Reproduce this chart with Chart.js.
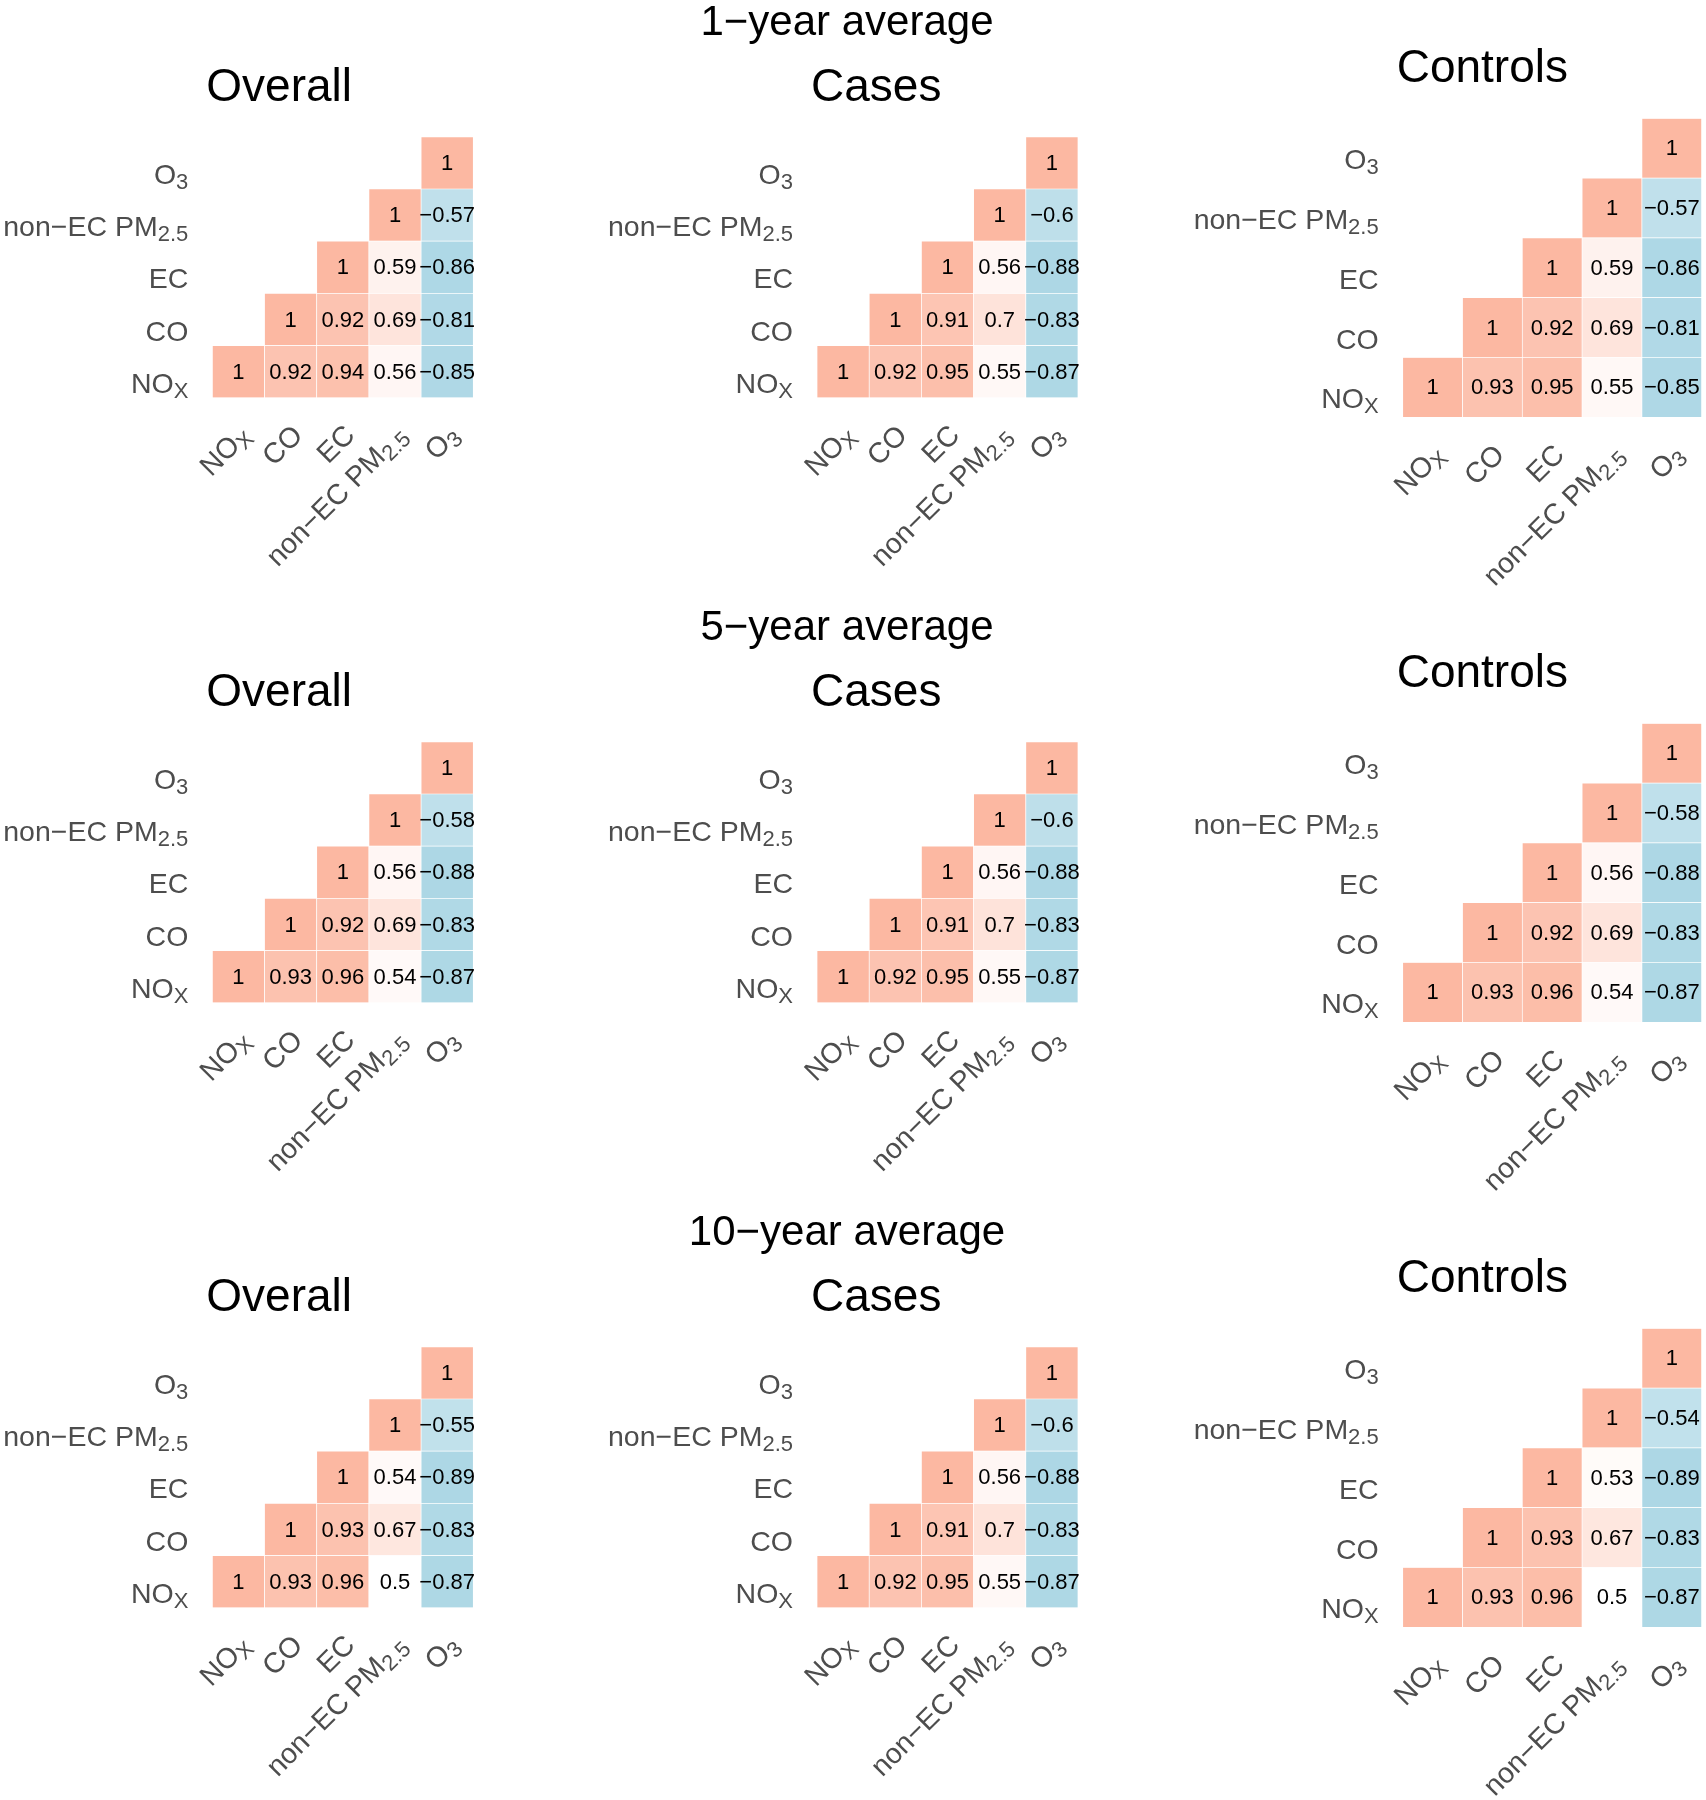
<!DOCTYPE html>
<html>
<head>
<meta charset="utf-8">
<script src="https://cdn.jsdelivr.net/npm/chart.js@4.4.1/dist/chart.umd.min.js"></script>
<style>
body { margin: 0; background: #fff; width: 1706px; height: 1800px; position: relative; overflow: hidden; }
canvas { position: absolute; }
</style>
</head>
<body>
<script>
var variables = ['NOx', 'CO', 'EC', 'non-EC PM2.5', 'O3'];
// tick labels as [text, isSubscript] pieces
var tickLabels = [
    [['NO', 0], ['X', 1]],
    [['CO', 0]],
    [['EC', 0]],
    [['non\u2212EC PM', 0], ['2.5', 1]],
    [['O', 0], ['3', 1]]
];
var periods = ['1\u2212year average', '5\u2212year average', '10\u2212year average'];
var groups = ['Overall', 'Cases', 'Controls'];

// upper triangle, one row per variable (NOx row at the bottom), starting at the diagonal
var overall1 = [[1, 0.92, 0.94, 0.56, -0.85], [1, 0.92, 0.69, -0.81], [1, 0.59, -0.86], [1, -0.57], [1]];
var cases1 = [[1, 0.92, 0.95, 0.55, -0.87], [1, 0.91, 0.7, -0.83], [1, 0.56, -0.88], [1, -0.6], [1]];
var controls1 = [[1, 0.93, 0.95, 0.55, -0.85], [1, 0.92, 0.69, -0.81], [1, 0.59, -0.86], [1, -0.57], [1]];

var overall5 = [[1, 0.93, 0.96, 0.54, -0.87], [1, 0.92, 0.69, -0.83], [1, 0.56, -0.88], [1, -0.58], [1]];
var cases5 = [[1, 0.92, 0.95, 0.55, -0.87], [1, 0.91, 0.7, -0.83], [1, 0.56, -0.88], [1, -0.6], [1]];
var controls5 = [[1, 0.93, 0.96, 0.54, -0.87], [1, 0.92, 0.69, -0.83], [1, 0.56, -0.88], [1, -0.58], [1]];

var overall10 = [[1, 0.93, 0.96, 0.5, -0.87], [1, 0.93, 0.67, -0.83], [1, 0.54, -0.89], [1, -0.55], [1]];
var cases10 = [[1, 0.92, 0.95, 0.55, -0.87], [1, 0.91, 0.7, -0.83], [1, 0.56, -0.88], [1, -0.6], [1]];
var controls10 = [[1, 0.93, 0.96, 0.5, -0.87], [1, 0.93, 0.67, -0.83], [1, 0.53, -0.89], [1, -0.54], [1]];

var matrices = [
    [overall1, cases1, controls1],
    [overall5, cases5, controls5],
    [overall10, cases10, controls10]
];

var FONT = '"Liberation Sans", Arial, Helvetica, sans-serif';
var rowHeight = 605;
var canvasHeight = 600;
var canvasLeft = [0, 560, 1140];
var canvasWidth = [560, 580, 566];
var cellLeft = [212.3, 817, 1402.7];
var cellTop = [136.8, 136.8, 118.3];
var cellSize = [52.2, 52.2, 59.8];

function mix(a, b, t) {
    return Math.round(a + (b - a) * t);
}

function cellColor(v) {
    var low = [166, 212, 227], high = [252, 184, 162];
    var end, t;
    if (v == null) return 'rgba(0,0,0,0)';
    if (v >= 0.5) {
        end = high; t = (v - 0.5) / 0.5;
    } else {
        end = low; t = (0.5 - v) / 1.5;
    }
    return 'rgb(' + mix(255, end[0], t) + ',' + mix(255, end[1], t) + ',' + mix(255, end[2], t) + ')';
}

function drawParts(ctx, parts, x, y, align) {
    var w = 0, i;
    for (i = 0; i < parts.length; i++) {
        ctx.font = (parts[i][1] ? '22px ' : '28.5px ') + FONT;
        w += ctx.measureText(parts[i][0]).width;
    }
    var px = align === 'right' ? x - w : x;
    ctx.textAlign = 'left';
    ctx.textBaseline = 'alphabetic';
    for (i = 0; i < parts.length; i++) {
        ctx.font = (parts[i][1] ? '22px ' : '28.5px ') + FONT;
        ctx.fillText(parts[i][0], px, y + (parts[i][1] ? 5 : 0));
        px += ctx.measureText(parts[i][0]).width;
    }
}

function makePanel(r, c) {
    var m = matrices[r][c];
    var canvas = document.createElement('canvas');
    canvas.width = canvasWidth[c];
    canvas.height = canvasHeight;
    canvas.style.left = canvasLeft[c] + 'px';
    canvas.style.top = (r * rowHeight) + 'px';
    document.body.appendChild(canvas);

    var datasets = [];
    for (var i = 0; i < 5; i++) {
        var spans = [], vals = [];
        for (var j = 0; j < 5; j++) {
            spans.push(j >= i ? [i, i + 1] : null);
            vals.push(j >= i ? m[i][j - i] : null);
        }
        datasets.push({
            label: variables[i],
            data: spans,
            corr: vals,
            grouped: false,
            barPercentage: 1,
            categoryPercentage: 1,
            borderWidth: 0.7,
            borderColor: '#ffffff',
            borderSkipped: false,
            backgroundColor: function(ctx) {
                return cellColor(ctx.dataset.corr[ctx.dataIndex]);
            }
        });
    }

    var padLeft = cellLeft[c] - canvasLeft[c];
    var padTop = cellTop[c];
    var size = cellSize[c] * 5;

    var textPlugin = {
        id: 'corrText',
        afterDraw: function(chart) {
            var ctx = chart.ctx;
            var xs = chart.scales.x, ys = chart.scales.y;
            var area = chart.chartArea;
            ctx.save();

            // cell values
            ctx.fillStyle = '#000';
            ctx.font = '22px ' + FONT;
            ctx.textAlign = 'center';
            ctx.textBaseline = 'middle';
            chart.data.datasets.forEach(function(ds, di) {
                var meta = chart.getDatasetMeta(di);
                meta.data.forEach(function(bar, k) {
                    var v = ds.corr[k];
                    if (v == null) return;
                    ctx.fillText(String(v).replace('-', '\u2212'), bar.x, (bar.y + bar.base) / 2 + 1);
                });
            });

            // y labels
            ctx.fillStyle = '#4d4d4d';
            for (var i = 0; i < 5; i++) {
                drawParts(ctx, tickLabels[i], area.left - 24, ys.getPixelForValue(i + 0.5) + 21, 'right');
            }
            // x labels, rotated
            for (var j = 0; j < 5; j++) {
                ctx.save();
                ctx.translate(xs.getPixelForValue(j) + 13.5, area.bottom + 39);
                ctx.rotate(-Math.PI / 4);
                drawParts(ctx, tickLabels[j], 0, 0, 'right');
                ctx.restore();
            }

            // panel title
            ctx.fillStyle = '#000';
            ctx.font = '46px ' + FONT;
            ctx.textAlign = 'left';
            ctx.textBaseline = 'alphabetic';
            ctx.fillText(groups[c], area.left - 6, area.top - 36);

            // row title over the middle panel
            if (c === 1) {
                ctx.font = '42px ' + FONT;
                ctx.textAlign = 'center';
                ctx.fillText(periods[r], 847 - canvasLeft[c], 34.5);
            }
            ctx.restore();
        }
    };

    new Chart(canvas, {
        type: 'bar',
        data: {
            labels: variables,
            datasets: datasets
        },
        options: {
            responsive: false,
            animation: false,
            devicePixelRatio: 1,
            layout: {
                padding: {
                    left: padLeft,
                    top: padTop,
                    right: canvasWidth[c] - padLeft - size,
                    bottom: canvasHeight - padTop - size
                }
            },
            scales: {
                x: { display: false, offset: true },
                y: { display: false, min: 0, max: 5 }
            },
            plugins: {
                legend: { display: false },
                tooltip: { enabled: false }
            }
        },
        plugins: [textPlugin]
    });
}

for (var r = 0; r < 3; r++) {
    for (var c = 0; c < 3; c++) {
        makePanel(r, c);
    }
}
</script>
</body>
</html>
